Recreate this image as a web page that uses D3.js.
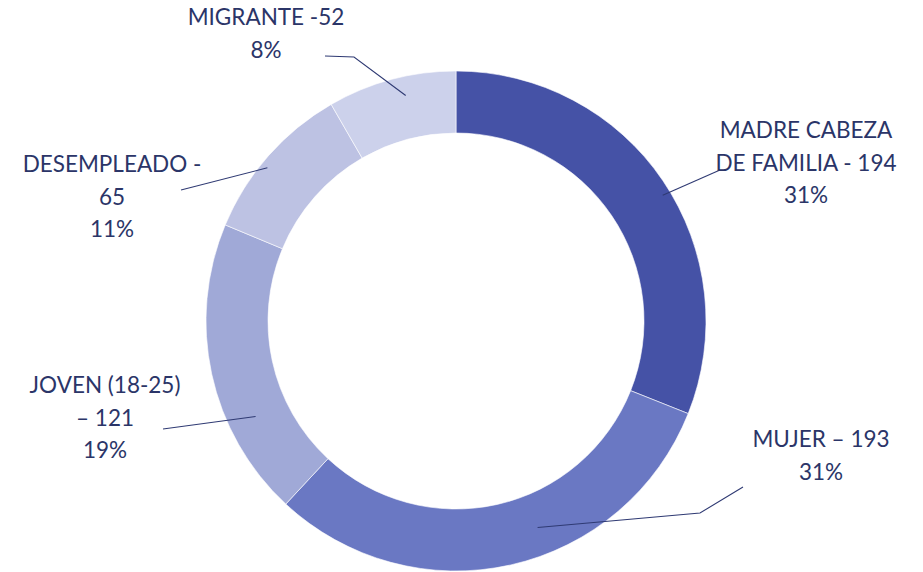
<!DOCTYPE html>
<html>
<head>
<meta charset="utf-8">
<script src="https://cdn.jsdelivr.net/npm/d3@7"></script>
<style>
  html, body { margin: 0; padding: 0; background: #fff; }
  svg { display: block; }
</style>
</head>
<body>
<svg id="chart" width="923" height="572"></svg>
<script>
// data
const categories = ['MADRE CABEZA DE FAMILIA', 'MUJER', 'JOVEN (18-25)', 'DESEMPLEADO', 'MIGRANTE'];
const values = [194, 193, 121, 65, 52];
const labelLines = [
    ['MADRE CABEZA', 'DE FAMILIA - 194'],
    ['MUJER \u2013 193'],
    ['JOVEN (18-25)', '\u2013 121'],
    ['DESEMPLEADO -', '65'],
    ['MIGRANTE -52']
];
// percentages as printed on the chart
const percents = ['31%', '31%', '19%', '11%', '8%'];
const colors = ['#4552a6', '#6a78c3', '#a0a9d7', '#bdc2e3', '#ccd1eb'];

// label placement (text centre, first baseline, leader elbow points)
const layout = [
    { x: 806, y: 138, t: 0.525, r: 242, pts: [[720, 170]] },
    { x: 821, y: 447, t: 0.42, r: 222, pts: [[700, 513], [743, 487]] },
    { x: 105, y: 393, t: 0.31, r: 222, pts: [[163, 429]] },
    { x: 112, y: 172, t: 0.44, r: 243, pts: [[181, 190]] },
    { x: 266, y: 25, t: 0.58, r: 231, pts: [[354, 57], [325, 56]] }
];

const svg = d3.select('#chart');
const cx = 456, cy = 321;
const outerR = 250, innerR = 188;
const lineH = 32.5;
const textColor = '#2b3568';

const pie = d3.pie().sort(null).value(d => d)(values);
const arc = d3.arc().innerRadius(innerR).outerRadius(outerR);

const g = svg.append('g').attr('transform', `translate(${cx},${cy})`);

g.selectAll('path.slice')
    .data(pie)
    .join('path')
    .attr('class', 'slice')
    .attr('d', arc)
    .attr('fill', (d, i) => colors[i])
    .attr('stroke', '#fff')
    .attr('stroke-width', 0.6);

// leader lines
pie.forEach((d, i) => {
    const L = layout[i];
    const a = d.startAngle + (d.endAngle - d.startAngle) * L.t;
    const start = [cx + L.r * Math.sin(a), cy - L.r * Math.cos(a)];
    const pts = [start].concat(L.pts);
    svg.append('path')
        .attr('d', d3.line()(pts))
        .attr('fill', 'none')
        .attr('stroke', '#2f3a73')
        .attr('stroke-width', 1.1);
});

// labels
pie.forEach((d, i) => {
    const L = layout[i];
    const lines = labelLines[i].concat([percents[i]]);
    const t = svg.append('text')
        .attr('text-anchor', 'middle')
        .attr('font-family', 'Lato, "Open Sans", sans-serif')
        .attr('font-size', 22.5)
        .attr('fill', textColor);
    lines.forEach((s, k) => {
        t.append('tspan')
            .attr('x', L.x)
            .attr('y', L.y + k * lineH)
            .text(s);
    });
});
</script>
</body>
</html>
